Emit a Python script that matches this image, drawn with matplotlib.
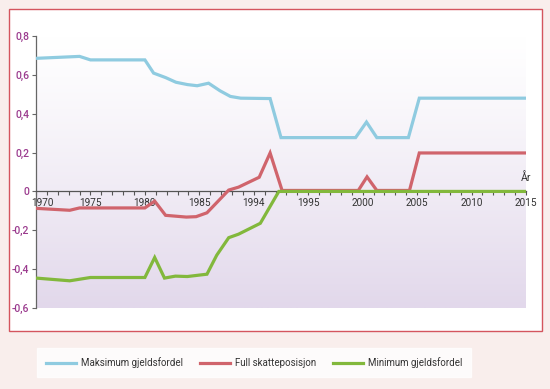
import numpy as np
import matplotlib
matplotlib.use("Agg")
import matplotlib.pyplot as plt
import matplotlib.transforms as mtrans
from matplotlib.patches import Rectangle

plt.rcParams['font.family'] = ['Roboto', 'DejaVu Sans']

# Maksimum gjeldsfordel (kink points)
max_x = [1970, 1974, 1975, 1980, 1980.8, 1981.9, 1982.85, 1983.9, 1984.8, 1985.85,
         1986.9, 1987.85, 1988.8, 1991.5, 1992.5, 1999.35, 2000.35, 2001.3, 2004.2,
         2005.2, 2015]
max_y = [0.685, 0.695, 0.677, 0.677, 0.609, 0.586, 0.562, 0.55, 0.544, 0.557,
         0.518, 0.489, 0.48, 0.478, 0.277, 0.277, 0.357, 0.277, 0.277,
         0.48, 0.48]

# Full skatteposisjon
full_x = [1970, 1973.1, 1974, 1980, 1980.9, 1981.9, 1983.8, 1984.7, 1985.7, 1987.7,
          1988.6, 1990.5, 1991.5, 1992.6, 1999.6, 2000.4, 2001.3, 2004.3, 2005.2, 2015]
full_y = [-0.087, -0.097, -0.085, -0.085, -0.05, -0.123, -0.132, -0.13, -0.11, 0.007,
          0.022, 0.073, 0.198, 0.005, 0.005, 0.075, 0.005, 0.005, 0.198, 0.198]

# Minimum gjeldsfordel
min_x = [1970, 1973.1, 1975, 1980, 1980.9, 1981.8, 1982.8, 1983.9, 1985.7, 1986.6,
         1987.7, 1988.6, 1990.6, 1992.3, 2015]
min_y = [-0.446, -0.46, -0.443, -0.443, -0.34, -0.446, -0.436, -0.438, -0.426, -0.328,
         -0.238, -0.22, -0.164, 0.0, 0.0]

x_ticks = [1970, 1975, 1980, 1985, 1990, 1995, 2000, 2005, 2010, 2015]
x_tick_labels = ['1970', '1975', '1980', '1985', '1994', '1995', '2000', '2005', '2010', '2015']
y_ticks = [-0.6, -0.4, -0.2, 0, 0.2, 0.4, 0.6, 0.8]
y_tick_labels = ['-0,6', '-0,4', '-0,2', '0', '0,2', '0,4', '0,6', '0,8']

labels = ['Maksimum gjeldsfordel', 'Full skatteposisjon', 'Minimum gjeldsfordel']
colors = ['#8fcbe0', '#d0646c', '#82b83c']

W, H = 550, 389
fig = plt.figure(figsize=(W / 100, H / 100), dpi=100, facecolor='#f9eeec')

# white panel with red frame (behind the axes)
fig.patches.append(Rectangle((8.5 / W, 1 - 331 / H), 533 / W, 322 / H,
                             transform=fig.transFigure, facecolor='white',
                             edgecolor='#d4555e', linewidth=1.0, zorder=-1))

ax = fig.add_axes([36 / W, 81 / H, 490 / W, 272 / H])
ax.patch.set_alpha(0)

# background gradient: white at top, lavender at bottom
grad = np.linspace(0, 1, 256)[:, None]
top = np.array([1.0, 1.0, 1.0])
bot = np.array([226, 216, 235]) / 255
img = top + (bot - top) * grad[..., None] ** 1.2
ax.imshow(img, extent=[1970, 2015, -0.6, 0.8], origin='upper', aspect='auto',
          zorder=0, interpolation='bilinear')
ax.set_xlim(1970, 2015)
ax.set_ylim(-0.6, 0.8)

for xs, ys, c, lab in zip([max_x, full_x, min_x], [max_y, full_y, min_y], colors, labels):
    ax.plot(xs, ys, color=c, lw=2.3, label=lab, zorder=3, solid_joinstyle='miter')

ax.set_axisbelow(True)
for s in ['top', 'right']:
    ax.spines[s].set_visible(False)
ax.spines['bottom'].set_position(('data', 0))
ax.spines['bottom'].set_color('#555555')
ax.spines['left'].set_color('#666666')
ax.spines['left'].set_linewidth(0.9)
ax.spines['bottom'].set_linewidth(0.9)

ax.set_xticks(x_ticks)
ax.set_xticklabels(x_tick_labels)
ax.set_xticks(range(1970, 2016), minor=True)
ax.tick_params(axis='x', which='both', length=3, width=0.8, color='#555555',
               direction='out', labelsize=7.2, labelcolor='#333333', pad=2)
ax.set_yticks(y_ticks)
ax.set_yticklabels(y_tick_labels, fontweight='medium')
ax.tick_params(axis='y', length=3, width=0.8, color='#666666', direction='out',
               labelsize=7.5, labelcolor='#9b3b8e', pad=2)

# shift first x label off the y axis
lbl0 = ax.get_xticklabels()[0]
lbl0.set_transform(lbl0.get_transform() + mtrans.ScaledTranslation(6.5 / 100, 0, fig.dpi_scale_trans))

ax.text(2015, 0.073, 'År', ha='center', va='center', fontsize=7.5, color='#333333')

leg = fig.legend(loc='center', bbox_to_anchor=(254 / W, 1 - 362.5 / H), ncol=3,
                 frameon=True, fancybox=False, facecolor='white', edgecolor='white',
                 fontsize=7, handlelength=3.1, handletextpad=0.5, columnspacing=1.75,
                 borderpad=0.9, borderaxespad=0)
for t in leg.get_texts():
    t.set_color('#333333')
for h in leg.get_lines():
    h.set_linewidth(2.3)

fig.savefig('out.png', dpi=100, facecolor=fig.get_facecolor())
